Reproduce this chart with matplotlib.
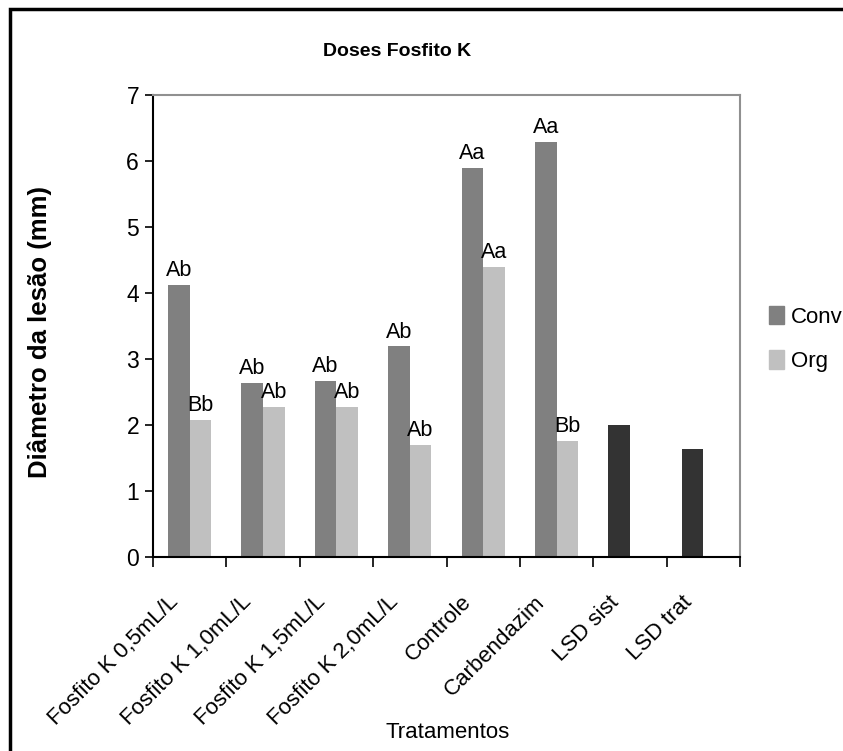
import matplotlib
matplotlib.use("Agg")
import matplotlib.pyplot as plt
import numpy as np
from matplotlib.patches import Rectangle, Patch

plt.rcParams["font.family"] = ["Liberation Sans", "DejaVu Sans"]

categories = ["Fosfito K 0,5mL/L", "Fosfito K 1,0mL/L", "Fosfito K 1,5mL/L",
              "Fosfito K 2,0mL/L", "Controle", "Carbendazim", "LSD sist", "LSD trat"]
conv = [4.12, 2.63, 2.66, 3.19, 5.90, 6.29]
org = [2.07, 2.28, 2.28, 1.69, 4.40, 1.76]
conv_letters = ["Ab", "Ab", "Ab", "Ab", "Aa", "Aa"]
org_letters = ["Bb", "Ab", "Ab", "Ab", "Aa", "Bb"]
lsd = [2.00, 1.63]
yticks = [0, 1, 2, 3, 4, 5, 6, 7]

C_CONV, C_ORG, C_LSD = "#808080", "#c0c0c0", "#333333"

fig = plt.figure(figsize=(8.43, 7.51), dpi=100)
ax = fig.add_axes([153 / 843, 1 - 557 / 751, 587 / 843, 462 / 751])

w = 0.295
x = np.arange(len(conv))
b1 = ax.bar(x - w / 2, conv, w, color=C_CONV, label="Conv")
b2 = ax.bar(x + w / 2, org, w, color=C_ORG, label="Org")
xl = np.arange(len(conv), len(categories))
ax.bar(xl - w / 2, lsd, w, color=C_LSD)

for bars, letters in ((b1, conv_letters), (b2, org_letters)):
    for b, t in zip(bars, letters):
        ax.text(b.get_x() + b.get_width() / 2, b.get_height() + 0.06, t,
                ha="center", va="bottom", fontsize=15.5)

ax.set_xlim(-0.5, len(categories) - 0.5)
ax.set_ylim(0, 7)
ax.set_yticks(yticks)
ax.tick_params(axis="y", length=6, width=1.2, pad=4, labelsize=16.5)
# category boundaries as ticks, names centered between them
ax.set_xticks(np.arange(-0.5, len(categories)), minor=False)
ax.set_xticklabels([])
ax.set_xticks(np.arange(len(categories)) - 0.3, minor=True)
ax.set_xticklabels(categories, minor=True, rotation=45, ha="right",
                   rotation_mode="anchor", fontsize=16)
ax.tick_params(axis="x", which="major", length=7, width=1.2)
ax.tick_params(axis="x", which="minor", length=0, pad=25)

ax.spines["left"].set_linewidth(1.5)
ax.spines["bottom"].set_linewidth(1.5)
ax.spines["top"].set_color("#909090")
ax.spines["right"].set_color("#909090")
ax.spines["top"].set_linewidth(1.5)
ax.spines["right"].set_linewidth(1.5)

fig.text(397 / 843, 1 - 52 / 751, "Doses Fosfito K", ha="center", va="center",
         fontsize=14, fontweight="bold")
fig.text(40 / 843, 1 - 332 / 751, "Diâmetro da lesão (mm)", ha="center",
         va="center", rotation=90, fontsize=18.5, fontweight="bold")
fig.text(448 / 843, 1 - 732 / 751, "Tratamentos", ha="center", va="center",
         fontsize=16)

handles = [Patch(color=C_CONV, label="Conv"), Patch(color=C_ORG, label="Org")]
fig.legend(handles=handles, loc="center left",
           bbox_to_anchor=(760 / 843, 1 - 339 / 751), frameon=False,
           fontsize=16, handlelength=0.7, handleheight=0.9,
           handletextpad=0.3, labelspacing=1.0, borderaxespad=0)

fig.patches.append(Rectangle((9.5 / 843, -0.05), 1.2, 1 - 9 / 751 + 0.05,
                             transform=fig.transFigure, fill=False,
                             edgecolor="black", linewidth=2.5))

fig.savefig("out.png", dpi=100, facecolor="white")
